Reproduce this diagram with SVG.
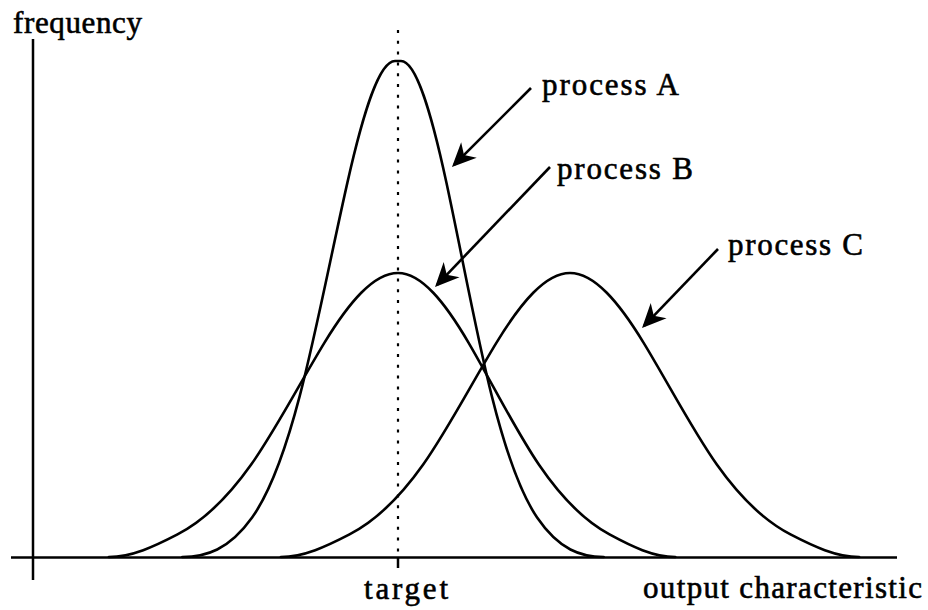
<svg xmlns="http://www.w3.org/2000/svg" width="928" height="610" viewBox="0 0 928 610">
  <style>
    .ax { stroke: #000; stroke-width: 2.5; fill: none; }
    .curve { stroke: #000; stroke-width: 2.6; fill: none; stroke-linejoin: round; stroke-linecap: round; }
    .dots { stroke: #000; stroke-width: 2.2; stroke-dasharray: 3 7.8; fill: none; }
    .arrow { stroke: #000; stroke-width: 2.6; fill: none; marker-end: url(#head); }
    .lbl { font-family: "Liberation Serif", "Times New Roman", serif; font-size: 31px; fill: #000; stroke: #000; stroke-width: 0.6; }
  </style>
  <defs>
    <marker id="head" markerUnits="userSpaceOnUse" orient="auto" viewBox="-26 -13 30 26" refX="-3" refY="0" markerWidth="30" markerHeight="26" overflow="visible">
      <path d="M0,0 L-24,-11 L-17,0 L-24,11 Z" fill="#000"/>
    </marker>
  </defs>
  <rect width="928" height="610" fill="#fff"/>

  <!-- axes -->
  <g id="axes">
    <line class="ax" x1="33" y1="39" x2="33" y2="580"/>
    <line class="ax" x1="11" y1="557.5" x2="897" y2="557.5"/>
    <line class="ax" x1="398" y1="557" x2="398" y2="568"/>
  </g>

  <!-- target marker -->
  <g id="target-line">
    <line class="dots" x1="398" y1="30" x2="398" y2="556"/>
  </g>

  <!-- process A: tall, narrow distribution centred on target -->
  <g id="curve-a">
    <path class="curve" d="M182.3,557 C205.6,557 228.8,550.1 252.1,517.5 C268,495.3 283.9,456.4 299.75,395.9 C315.6,335.5 331.5,252.8 347.4,182.6 C363.25,112.4 379.1,61 395,61 L401,61 C416.1,61 431.25,112.4 446.4,182.6 C461.5,252.8 476.6,335.5 491.75,395.9 C506.9,456.4 522,495.3 537.1,517.5 C559.3,550.1 581.5,557 603.7,557"/>
  </g>

  <!-- process B: wide distribution centred on target -->
  <g id="curve-b">
    <path class="curve" d="M108.9,557 C131.8,557 154.6,546.3 177.5,534.4 C202,521.7 226.5,499.4 251,464.8 C275.5,430.2 300,382.8 324.5,342.6 C349,302.5 373.5,273 398,273 C421.5,273 445,302.5 468.5,342.6 C492,382.8 515.5,430.2 539,464.8 C562.5,499.4 586,521.7 609.5,534.4 C631.4,546.3 653.4,557 675.3,557"/>
  </g>

  <!-- process C: wide distribution, shifted off target -->
  <g id="curve-c">
    <path class="curve" d="M280.9,557 C303.8,557 326.6,546.3 349.5,534.4 C374,521.7 398.5,499.4 423,464.8 C447.5,430.2 472,382.8 496.5,342.6 C521,302.5 545.5,273 570,273 C594.5,273 619,302.5 643.5,342.6 C668,382.8 692.5,430.2 717,464.8 C741.5,499.4 766,521.7 790.5,534.4 C813.4,546.3 836.2,557 859.1,557"/>
  </g>

  <!-- label pointers -->
  <g id="connectors">
    <line class="arrow" x1="531" y1="88" x2="454.1" y2="164.9"/>
    <line class="arrow" x1="550" y1="167" x2="437.1" y2="284.8"/>
    <line class="arrow" x1="718" y1="249" x2="644.1" y2="325.8"/>
  </g>

  <!-- labels -->
  <g id="labels">
    <text class="lbl" x="13" y="33" textLength="129" lengthAdjust="spacing">frequency</text>
    <text class="lbl" x="542" y="95" textLength="137" lengthAdjust="spacing">process  A</text>
    <text class="lbl" x="557" y="179" textLength="136" lengthAdjust="spacing">process  B</text>
    <text class="lbl" x="728" y="255" textLength="135" lengthAdjust="spacing">process  C</text>
    <text class="lbl" x="364" y="599" textLength="84" lengthAdjust="spacing">target</text>
    <text class="lbl" x="643" y="598" textLength="279" lengthAdjust="spacing">output  characteristic</text>
  </g>
</svg>
